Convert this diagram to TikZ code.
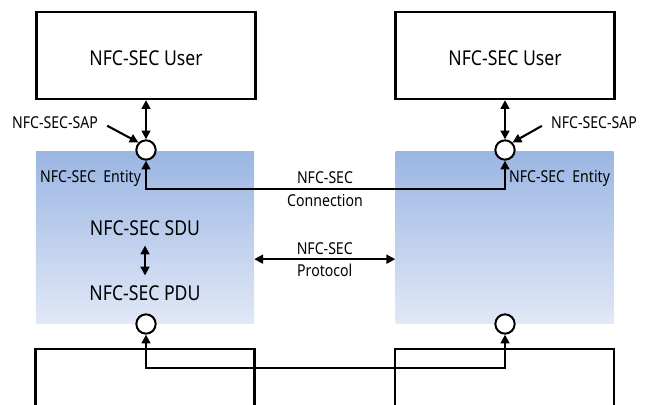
\documentclass[tikz,border=0pt]{standalone}
\usepackage{fontspec}
\setmainfont[FakeStretch=0.86]{Noto Sans}
\usetikzlibrary{arrows.meta}

\definecolor{entTop}{RGB}{155,182,227}
\definecolor{entBot}{RGB}{225,232,246}

\begin{document}
\begin{tikzpicture}[x=0.03cm, y=-0.03cm,
    box/.style={draw, line width=2pt, minimum width=6.57cm, inner sep=0pt},
    entity/.style={minimum width=6.54cm, minimum height=5.13cm, inner sep=0pt, top color=entTop, bottom color=entBot},
    sap/.style={circle, draw, fill=white, line width=1.7pt, minimum size=0.58cm, inner sep=0pt},
    arr/.style={line width=1.8pt, -{Triangle[length=7.5pt,width=7.5pt]}},
    darr/.style={line width=1.8pt, {Triangle[length=7.5pt,width=7.5pt]}-{Triangle[length=7.5pt,width=7.5pt]}},
    big/.style={font=\fontsize{17.5}{20}\selectfont},
    small/.style={font=\fontsize{14}{16}\selectfont}]
    \useasboundingbox (0,0) rectangle (650,405);
    \clip (0,0) rectangle (650,405);

    % Entities
    \node[entity] (entL) at (145,237.5) {};
    \node[entity] (entR) at (504.5,237.5) {};

    % Users and lower layer
    \node[box, minimum height=2.61cm] (userL) at (146,55.5) {};
    \node[box, minimum height=2.61cm] (userR) at (505,55.5) {};
    \node[big] (userLtxt) at (146,58) {NFC-SEC User};
    \node[big] (userRtxt) at (505,58) {NFC-SEC User};
    \node[box, minimum height=2.46cm] (lowL) at (145,390) {};
    \node[box, minimum height=2.46cm] (lowR) at (504.5,390) {};

    % Service access points
    \node[sap] (sapL) at (146,150) {};
    \node[sap] (sapR) at (505,150) {};
    \node[sap] (botL) at (146,324) {};
    \node[sap] (botR) at (505,324) {};

    % Labels
    \node[small] (sapLlbl) at (55,123) {NFC-SEC-SAP};
    \node[small] (sapRlbl) at (594,123) {NFC-SEC-SAP};
    \node[small] (entLlbl) at (90.5,178) {NFC-SEC\ \ Entity};
    \node[small] (entRlbl) at (559.5,178) {NFC-SEC\ \ Entity};
    \node[big] (sdu) at (145,228) {NFC-SEC SDU};
    \node[big] (pdu) at (145,293) {NFC-SEC PDU};

    % Arrows
    \draw[darr] (userL) -- (sapL);
    \draw[darr] (userR) -- (sapR);
    \draw[arr, shorten <=5pt] (sapLlbl.east) -- (sapL.north west);
    \draw[arr, shorten <=5pt] (sapRlbl.west) -- (sapR.north east);
    \draw[darr, shorten <=5pt, shorten >=5pt] (sdu) -- (pdu);

    \coordinate (conn) at (325,189);
    \draw[darr] (sapL) |- (conn) node[small, above] {NFC-SEC} node[small, below] {Connection} -| (sapR);

    \draw[darr] ([yshift=-0.65cm]entL.east) -- ([yshift=-0.65cm]entR.west)
        node[midway, small, above] {NFC-SEC} node[midway, small, below] {Protocol};

    \coordinate (link) at (325,368);
    \draw[darr] (botL) |- (link) -| (botR);
\end{tikzpicture}
\end{document}
